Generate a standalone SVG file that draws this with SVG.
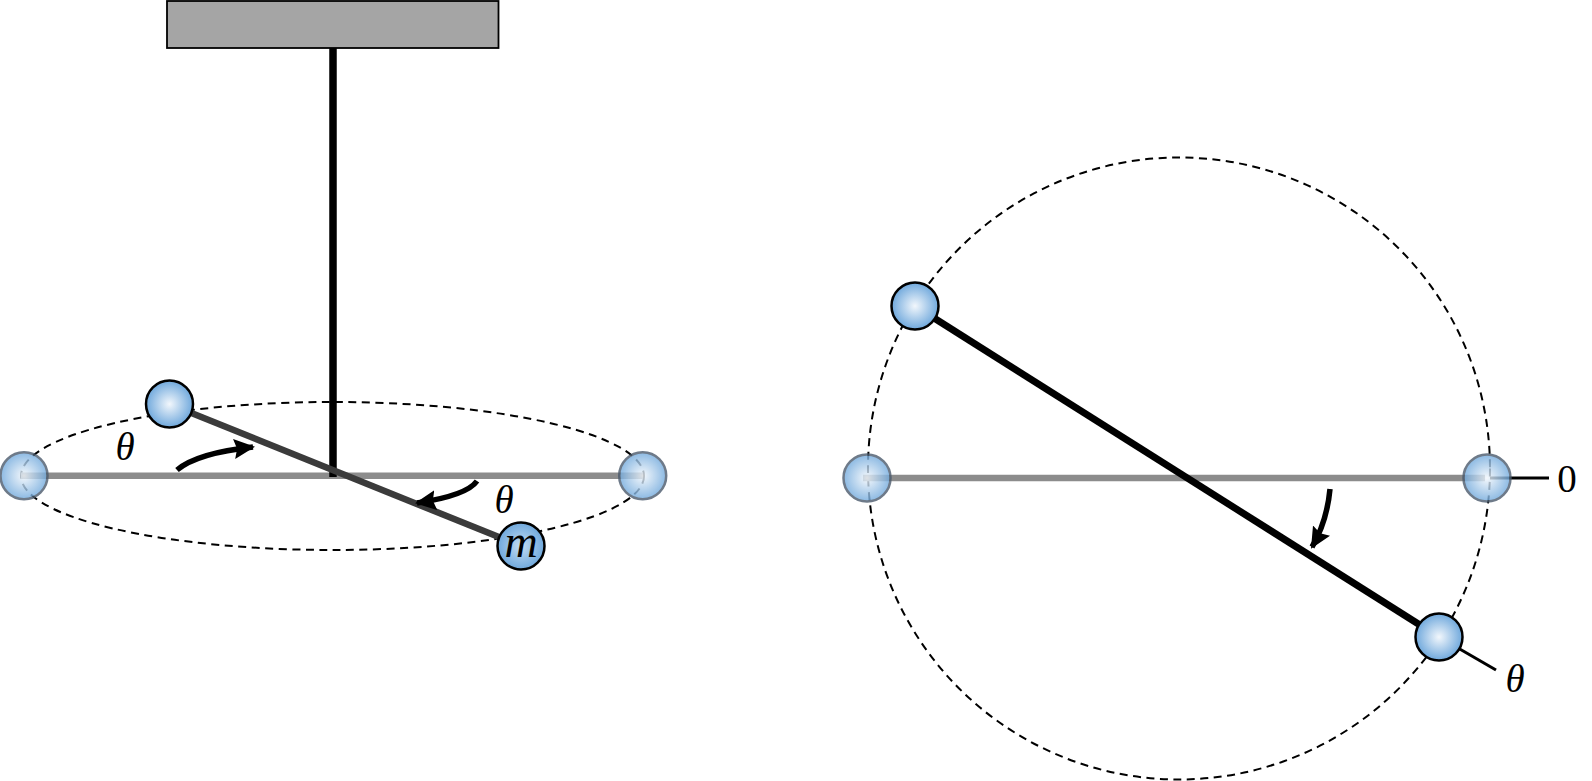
<svg xmlns="http://www.w3.org/2000/svg" width="1592" height="781" viewBox="0 0 1592 781">
<style>
.dash{fill:none;stroke:#000;stroke-width:2;stroke-dasharray:8 5.5}
.ball{fill:url(#sph);stroke:#000;stroke-width:2.5}
.ghost{opacity:.8}
.ghost .ball{stroke:#4a5a6c}
.curve{fill:none;stroke:#000;stroke-width:5.500;marker-end:url(#head)}
.t{font-family:"Liberation Serif","DejaVu Serif",serif;font-style:italic;font-size:39px;fill:#000;text-anchor:middle}
</style>
<defs>
<radialGradient id="sph" cx="50%" cy="50%" r="50%">
<stop offset="0" stop-color="#f2f7fc"/><stop offset="1" stop-color="#6fa8dc"/>
</radialGradient>
<radialGradient id="sphm" cx="50%" cy="50%" r="50%">
<stop offset="0" stop-color="#c4dcf2"/><stop offset="1" stop-color="#6fa8dc"/>
</radialGradient>
<marker id="head" markerUnits="userSpaceOnUse" markerWidth="24" markerHeight="22" refX="19" refY="10" orient="auto">
<path d="M0 0L21 10L0 20L3 10Z" fill="#000"/>
</marker>
</defs>
<g id="ceiling"><rect x="167" y="1" width="331.500" height="47" fill="#a5a5a5" stroke="#000" stroke-width="1.800"/></g>
<g id="connectors">
<ellipse class="dash" cx="332.500" cy="476" rx="311.500" ry="74"/>
<path d="M21 475.700H643" stroke="#8c8c8c" stroke-width="6.500" fill="none"/>
<path d="M333 48V477" stroke="#000" stroke-width="7.500" fill="none"/>
<path d="M169 404L521 546" stroke="#3b3b3b" stroke-width="6.500" fill="none"/>
<path class="curve" d="M177 470C190 459 216 451 253 447"/>
<path class="curve" d="M477 481C470 491 450 498 417 503"/>
<circle class="dash" cx="1179" cy="468.500" r="311"/>
<path d="M863 478H1485" stroke="#8c8c8c" stroke-width="6.500" fill="none"/>
<path d="M915 306L1439 637" stroke="#000" stroke-width="7" fill="none"/>
<path d="M1439 637L1496 670" stroke="#000" stroke-width="3" fill="none"/>
<path d="M1490 478H1549" stroke="#000" stroke-width="3" fill="none"/>
<path class="curve" d="M1330 489C1328 510 1322 530 1312 547"/>
</g>
<g id="ball-left-1" class="ghost"><circle class="ball" cx="24" cy="475.700" r="23.500"/></g>
<g id="ball-left-2" class="ghost"><circle class="ball" cx="642.700" cy="475.700" r="23.500"/></g>
<g id="ball-left-3"><circle class="ball" cx="169.500" cy="404" r="23.500"/></g>
<g id="ball-m"><circle class="ball" cx="521" cy="546" r="23.500" style="fill:url(#sphm)"/><text class="t" x="521" y="557" style="font-size:46px">m</text></g>
<g id="ball-right-1" class="ghost"><circle class="ball" cx="867" cy="478" r="23.500"/></g>
<g id="ball-right-2" class="ghost"><circle class="ball" cx="1487" cy="478" r="23.500"/></g>
<g id="ball-right-3"><circle class="ball" cx="915" cy="306" r="23.500"/></g>
<g id="ball-right-4"><circle class="ball" cx="1439" cy="637" r="23.500"/></g>
<g id="labels">
<text class="t" x="125" y="460">θ</text>
<text class="t" x="504" y="513">θ</text>
<text class="t" x="1515" y="692">θ</text>
<text class="t" x="1567" y="492" style="font-style:normal">0</text>
</g>
</svg>
